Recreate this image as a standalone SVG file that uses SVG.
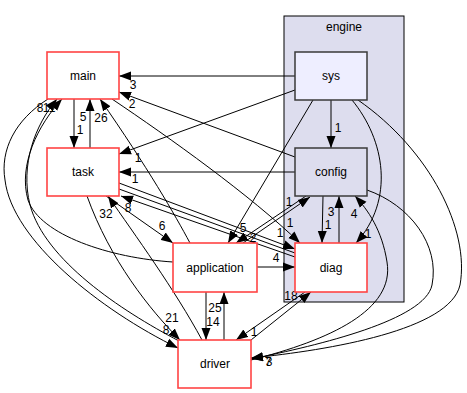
<svg xmlns="http://www.w3.org/2000/svg" width="467" height="393" viewBox="0 0 467 393">
  <style>
    text { font-family: "Liberation Sans", Arial, sans-serif; font-size: 12px; fill: #000; text-anchor: middle; }
    .dir { fill: #fff; stroke: #ff4444; stroke-width: 1.6; }
    .sub { stroke: #3a3a3a; stroke-width: 1.5; }
    .edge { fill: none; stroke: #000; stroke-width: 1; marker-end: url(#arrow); }
    .plain { fill: none; stroke: #000; stroke-width: 1; }
  </style>
  <defs>
    <marker id="arrow" markerUnits="userSpaceOnUse" markerWidth="13" markerHeight="10" refX="12" refY="5" orient="auto">
      <path d="M0,0.5 L12,5 L0,9.5 z" fill="#000"/>
    </marker>
  </defs>

  <rect width="467" height="393" fill="#fff"/>

  <!-- engine cluster -->
  <g id="cluster_engine">
    <rect x="284" y="16" width="120" height="286" fill="#ddddee" stroke="#000" stroke-width="1"/>
    <text x="344" y="31">engine</text>
  </g>

  <!-- connectors -->
  <g id="edges">
    <!-- sys -> main -->
    <path class="edge" d="M295,76 L119,76"/>
    <text x="133" y="89">3</text>
    <!-- config -> main -->
    <path class="edge" d="M295,157 L119,92"/>
    <text x="132" y="108">2</text>
    <!-- sys -> task -->
    <path class="edge" d="M295,90 L119,154"/>
    <text x="138" y="162">1</text>
    <!-- config -> task -->
    <path class="edge" d="M295,172 L119,172"/>
    <text x="135" y="183">1</text>
    <!-- main -> task -->
    <path class="edge" d="M74,99 L74,148"/>
    <text x="83" y="121">5</text>
    <text x="80" y="134">1</text>
    <!-- task -> main -->
    <path class="edge" d="M90,148 L90,99"/>
    <text x="101" y="122">26</text>
    <!-- application -> main -->
    <path class="edge" d="M190,243 C175,215 148,168 100,99"/>
    <!-- main -> diag -->
    <path class="edge" d="M112,99 C170,138 250,195 300,243"/>
    <text x="290" y="227">1</text>
    <!-- sys -> config -->
    <path class="edge" d="M331,100 L331,148"/>
    <text x="338" y="132">1</text>
    <!-- config -> diag -->
    <path class="edge" d="M323,196 L322,243"/>
    <!-- diag -> config -->
    <path class="edge" d="M339,243 L339,196"/>
    <text x="331" y="216">3</text>
    <text x="328" y="229">1</text>
    <!-- sys -> diag -->
    <path class="edge" d="M352,100 C385,140 395,200 356,243"/>
    <text x="368" y="238">1</text>
    <!-- driver -> config -->
    <path class="edge" d="M251,360 C330,340 395,310 387,262 C382,230 368,210 355,196"/>
    <text x="354" y="218">4</text>
    <!-- config -> driver -->
    <path class="edge" d="M367,190 C410,205 440,245 432,285 C425,320 320,345 251,359"/>
    <!-- sys -> driver -->
    <path class="edge" d="M358,100 C430,150 470,230 460,285 C450,330 330,350 251,358"/>
    <text x="268" y="366">7</text>
    <text x="269" y="366">3</text>
    <!-- sys -> application -->
    <path class="edge" d="M313,100 L228,243"/>
    <text x="243" y="232">5</text>
    <!-- config -> application -->
    <path class="edge" d="M306,196 L236,243"/>
    <text x="253" y="242">2</text>
    <!-- application -> config -->
    <path class="edge" d="M243,243 L310,197"/>
    <text x="289" y="206">1</text>
    <!-- task <-> diag -->
    <path class="edge" d="M119,183 L295,249"/>
    <text x="280" y="237">1</text>
    <path class="plain" d="M119,189 L295,253"/>
    <path class="edge" d="M295,257 L121,196"/>
    <text x="128" y="212">8</text>
    <!-- application -> diag -->
    <path class="edge" d="M257,267 L295,267"/>
    <text x="276" y="262">4</text>
    <!-- task -> application -->
    <path class="edge" d="M106,196 L173,243"/>
    <text x="162" y="230">6</text>
    <!-- application <-> driver -->
    <path class="edge" d="M206,292 L206,340"/>
    <path class="edge" d="M224,340 L224,292"/>
    <text x="215" y="312">25</text>
    <text x="213" y="326">14</text>
    <!-- diag -> driver -->
    <path class="edge" d="M305,292 L236,340"/>
    <text x="254" y="336">1</text>
    <!-- driver -> diag -->
    <path class="edge" d="M251,340 L311,292"/>
    <text x="291" y="300">18</text>
    <!-- driver -> task -->
    <path class="edge" d="M202,340 C175,290 135,235 108,196"/>
    <text x="106" y="218">32</text>
    <!-- task -> driver -->
    <path class="edge" d="M87,196 C110,260 150,310 180,340"/>
    <text x="172" y="322">21</text>
    <!-- main -> driver (outer sweep) -->
    <path class="edge" d="M48,99 C15,120 0,150 5,180 C12,240 100,310 178,348"/>
    <text x="166" y="334">8</text>
    <!-- driver -> main -->
    <path class="edge" d="M179,341 C120,310 45,260 30,205 C20,165 35,125 57,99"/>
    <!-- application -> main -->
    <path class="edge" d="M173,262 C110,258 40,235 28,200 C18,165 38,125 62,99"/>
    <text x="40" y="112">8</text>
    <text x="46" y="112">1</text>
    <text x="52" y="112">1</text>
  </g>

  <!-- nodes -->
  <g id="main">
    <rect class="dir" x="47" y="52" width="72" height="47"/>
    <text x="83" y="80">main</text>
  </g>
  <g id="task">
    <rect class="dir" x="47" y="148" width="72" height="48"/>
    <text x="83" y="176">task</text>
  </g>
  <g id="sys">
    <rect class="sub" x="295" y="52" width="72" height="48" fill="#eeeeff"/>
    <text x="331" y="80">sys</text>
  </g>
  <g id="config">
    <rect class="sub" x="295" y="148" width="72" height="48" fill="#ddddee"/>
    <text x="331" y="176">config</text>
  </g>
  <g id="diag">
    <rect class="dir" x="295" y="243" width="72" height="49"/>
    <text x="331" y="272">diag</text>
  </g>
  <g id="application">
    <rect class="dir" x="173" y="243" width="84" height="49"/>
    <text x="215" y="272">application</text>
  </g>
  <g id="driver">
    <rect class="dir" x="178" y="340" width="73" height="48"/>
    <text x="215" y="368">driver</text>
  </g>
</svg>
